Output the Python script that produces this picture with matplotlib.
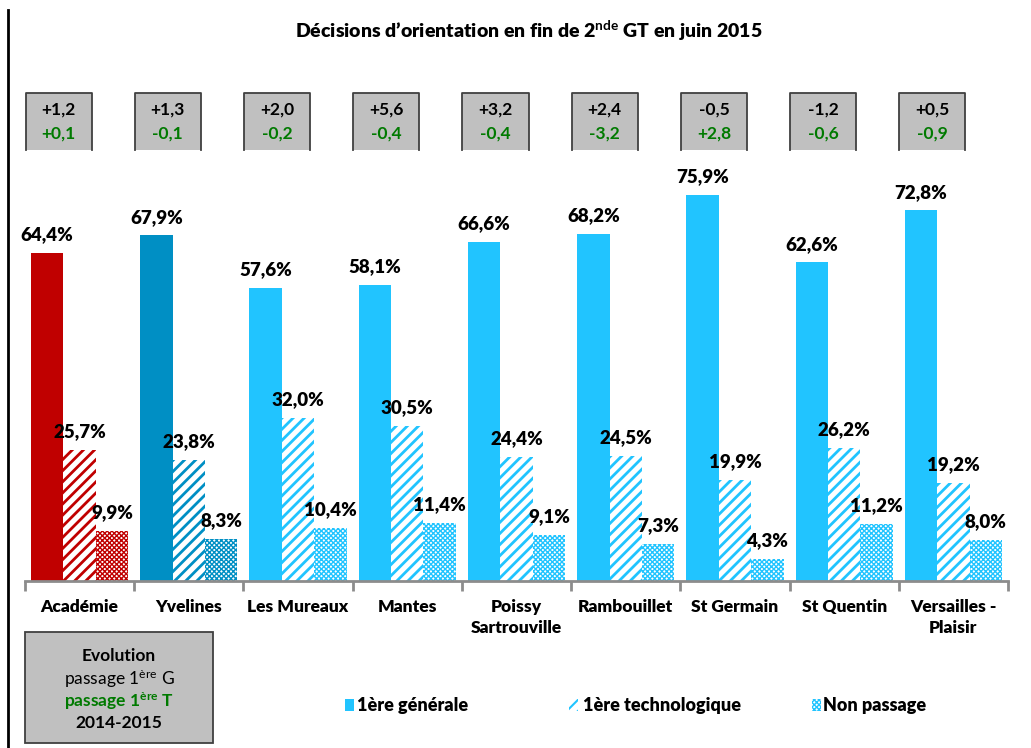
import matplotlib
matplotlib.use("Agg")
import matplotlib.pyplot as plt
from matplotlib.patches import Rectangle
from matplotlib.lines import Line2D
from matplotlib.transforms import blended_transform_factory
import numpy as np

plt.rcParams['font.family'] = ['Lato', 'DejaVu Sans']
plt.rcParams['mathtext.fontset'] = 'custom'
plt.rcParams['mathtext.rm'] = 'Lato'
plt.rcParams['mathtext.bf'] = 'Lato:bold'
plt.rcParams['mathtext.it'] = 'Lato:italic'
plt.rcParams['hatch.linewidth'] = 2.0

# ---------------- data ----------------
categories = ["Académie", "Yvelines", "Les Mureaux", "Mantes", "Poissy\nSartrouville",
              "Rambouillet", "St Germain", "St Quentin", "Versailles -\nPlaisir"]
generale = [64.4, 67.9, 57.6, 58.1, 66.6, 68.2, 75.9, 62.6, 72.8]
techno = [25.7, 23.8, 32.0, 30.5, 24.4, 24.5, 19.9, 26.2, 19.2]
non_passage = [9.9, 8.3, 10.4, 11.4, 9.1, 7.3, 4.3, 11.2, 8.0]
evol_g = ["+1,2", "+1,3", "+2,0", "+5,6", "+3,2", "+2,4", "-0,5", "-1,2", "+0,5"]
evol_t = ["+0,1", "-0,1", "-0,2", "-0,4", "-0,4", "-3,2", "+2,8", "-0,6", "-0,9"]
series_names = ["1ère générale", "1ère technologique", "Non passage"]

bar_colors = ["#C00000", "#008FC4"] + ["#21C4FF"] * 7
green = "#007A00"

W, H = 1031, 748
fig = plt.figure(figsize=(W / 100, H / 100), dpi=100)
ax = fig.add_axes([25 / W, 167 / H, 983 / W, 431 / H])

x = np.arange(len(categories))
bw = 0.297

def fmt(v):
    return f"{v:.1f}".replace(".", ",") + "%"

def set_hlw(bars, lw):
    for b in bars:
        if hasattr(b, "set_hatch_linewidth"):
            b.set_hatch_linewidth(lw)

b1 = ax.bar(x - bw, generale, bw, color=bar_colors, linewidth=0)
b2 = ax.bar(x, techno, bw, facecolor="white", edgecolor=bar_colors, hatch="///", linewidth=0)
set_hlw(b2, 2.0)
b3 = ax.bar(x + bw, non_passage, bw, facecolor="white", edgecolor=bar_colors, hatch="xxxxxxx", linewidth=0)
set_hlw(b3, 1.0)

for bars, vals in ((b1, generale), (b2, techno), (b3, non_passage)):
    for b, v in zip(bars, vals):
        ax.annotate(fmt(v), (b.get_x() + b.get_width() / 2, v), xytext=(0, 7),
                    textcoords="offset points", ha="center", va="bottom",
                    fontsize=13.5, fontweight="heavy", color="black")

ax.set_xlim(-0.5, len(categories) - 0.5)
ax.set_ylim(0, 431 / 5.09)
for s in ("top", "right", "left"):
    ax.spines[s].set_visible(False)
ax.spines["bottom"].set_color("#8C8C8C")
ax.spines["bottom"].set_linewidth(2)
ax.set_yticks([])
ax.set_xticks(x)
ax.set_xticklabels(categories, fontsize=12.5, fontweight="heavy", linespacing=1.4)
ax.tick_params(axis="x", which="major", length=0, pad=13)
ax.set_xticks(np.arange(-0.5, len(categories), 1), minor=True)
ax.tick_params(axis="x", which="minor", length=7, width=2, color="#8C8C8C")

# evolution boxes above each category
tr = blended_transform_factory(ax.transData, fig.transFigure)
bxw = 66 / 109.2
top = 1 - 93 / H
bot = 1 - 150 / H
for i, (g, t) in enumerate(zip(evol_g, evol_t)):
    cx = i - 21 / 109.2
    r = Rectangle((cx - bxw / 2, bot), bxw, top - bot, transform=tr,
                  facecolor="#C0C0C0", edgecolor="none", clip_on=False)
    fig.add_artist(r)
    fig.add_artist(Line2D([cx - bxw / 2, cx - bxw / 2, cx + bxw / 2, cx + bxw / 2],
                          [bot, top, top, bot], transform=tr, color="#404040", lw=1.3))
    fig.text(cx, 1 - 110 / H, g, transform=tr, ha="center", va="center",
             fontsize=12.5, fontweight="bold", color="black")
    fig.text(cx, 1 - 134 / H, t, transform=tr, ha="center", va="center",
             fontsize=12.5, fontweight="bold", color=green)

# title
fig.text(529 / W, 1 - 31 / H, "Décisions d\u2019orientation en fin de 2$^{\\mathbf{nde}}$ GT en juin 2015",
         ha="center", va="center", fontsize=14, fontweight="heavy")

# left frame line
fig.add_artist(Line2D([7.5 / W, 7.5 / W], [1 - 10 / H, 0], transform=fig.transFigure,
                      color="black", lw=2))

# Evolution legend box
fig.add_artist(Rectangle((25 / W, 1 - 743 / H), 188 / W, 111 / H, transform=fig.transFigure,
                         facecolor="#C0C0C0", edgecolor="#404040", lw=1.3))
ex = 119 / W
fig.text(ex, 1 - 656 / H, "Evolution", ha="center", va="center", fontsize=12.5, fontweight="bold")
fig.text(ex, 1 - 679 / H, "passage 1$^{\\mathrm{ère}}$ G", ha="center", va="center", fontsize=12.5)
fig.text(ex, 1 - 701 / H, "passage 1$^{\\mathbf{ère}}$ T", ha="center", va="center",
         fontsize=12.5, fontweight="bold", color=green)
fig.text(ex, 1 - 723 / H, "2014-2015", ha="center", va="center", fontsize=12.5, fontweight="bold")

# legend (manual)
leg_y = 1 - 705 / H
hatches = [None, "///", "xxxxxxx"]
icon_x = [345, 569, 812]
text_x = [357, 583, 823]
lc = "#21C4FF"
for name, hx, ix, tx in zip(series_names, hatches, icon_x, text_x):
    if hx is None:
        p = Rectangle((ix / W, leg_y - 6 / H), 9 / W, 12 / H, transform=fig.transFigure,
                      facecolor=lc, edgecolor="none")
    else:
        p = Rectangle((ix / W, leg_y - 6 / H), 9 / W, 12 / H, transform=fig.transFigure,
                      facecolor="white", edgecolor=lc, hatch=hx, linewidth=0)
        if hasattr(p, "set_hatch_linewidth"):
            p.set_hatch_linewidth(1.5 if hx == "///" else 1.0)
    fig.add_artist(p)
    fig.text(tx / W, leg_y, name, ha="left", va="center", fontsize=13, fontweight="heavy")

fig.savefig("out.png", dpi=100)
